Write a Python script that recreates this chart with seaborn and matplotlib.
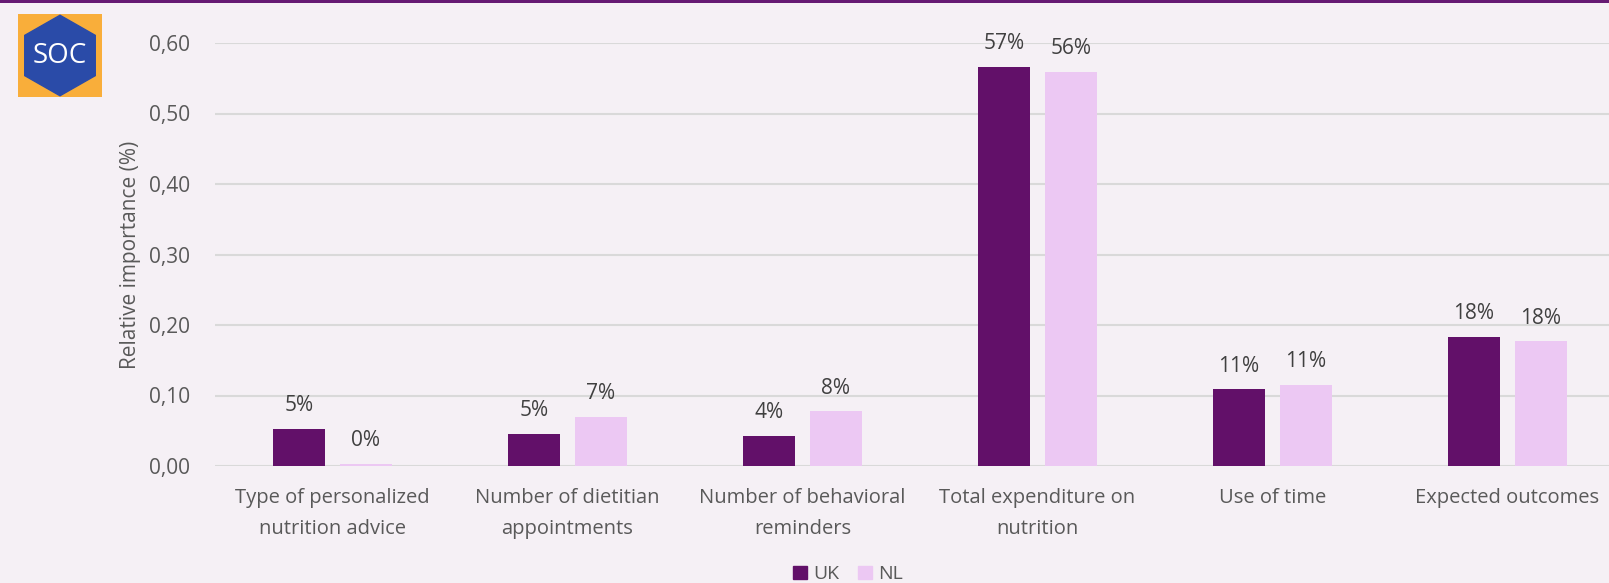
import pandas as pd
import matplotlib.pyplot as plt
import seaborn as sns
from matplotlib.patches import Rectangle, RegularPolygon

categories = ['Type of personalized\nnutrition advice', 'Number of dietitian\nappointments',
              'Number of behavioral\nreminders', 'Total expenditure on\nnutrition',
              'Use of time', 'Expected outcomes']
uk = [0.053, 0.046, 0.043, 0.566, 0.109, 0.183]
nl = [0.003, 0.070, 0.078, 0.559, 0.115, 0.177]
uk_labels = ['5%', '5%', '4%', '57%', '11%', '18%']
nl_labels = ['0%', '7%', '8%', '56%', '11%', '18%']
yticks = [0.0, 0.1, 0.2, 0.3, 0.4, 0.5, 0.6]

df = pd.DataFrame({'cat': categories * 2, 'val': uk + nl,
                   'country': ['UK'] * 6 + ['NL'] * 6})

bg = '#F5F0F5'
sns.set_style('white')
plt.rcParams['font.family'] = ['Open Sans', 'DejaVu Sans']

fig = plt.figure(figsize=(16.09, 5.83), dpi=100, facecolor=bg)
ax = fig.add_axes([215 / 1609, 1 - 466 / 583, 1410 / 1609, (466 - 43) / 583], facecolor=bg)

sns.barplot(data=df, x='cat', y='val', hue='country', palette=['#621069', '#ECC8F3'],
            width=0.57, gap=0.22, ax=ax, legend=False, saturation=1, linewidth=0)

for cont, labs in zip(ax.containers, [uk_labels, nl_labels]):
    ax.bar_label(cont, labels=labs, padding=9, fontsize=15, color='#404040')

ax.set_ylim(0, 0.6)
ax.set_xlim(-0.5, 5.5)
ax.set_yticks(yticks)
ax.set_yticklabels([f'{t:.2f}'.replace('.', ',') for t in yticks], fontsize=15, color='#595959')
ax.set_xticks(range(len(categories)))
ax.set_xticklabels(categories, fontsize=14.5, color='#595959', linespacing=1.75)
ax.tick_params(axis='x', length=0, pad=16)
ax.tick_params(axis='y', length=0, pad=18)
ax.set_xlabel('')
ax.set_ylabel('Relative importance (%)', fontsize=15, color='#595959', labelpad=6)
ax.yaxis.grid(True, color='#D9D9D9', lw=1.5)
ax.set_axisbelow(True)
for s in ax.spines.values():
    s.set_visible(False)

# legend at the bottom
handles = [Rectangle((0, 0), 1, 1, color='#621069'), Rectangle((0, 0), 1, 1, color='#ECC8F3')]
fig.legend(handles, ['UK', 'NL'], loc='center', bbox_to_anchor=(0.527, 0.015), ncol=2,
           frameon=False, fontsize=14, handlelength=0.7, handleheight=0.7,
           handletextpad=0.3, columnspacing=1.0, labelcolor='#595959')

# top purple band
fig.add_artist(Rectangle((0, 1 - 3 / 583), 1, 3 / 583, transform=fig.transFigure,
                         color='#661A73', lw=0))

# SOC logo
lax = fig.add_axes([18 / 1609, 1 - 97 / 583, 84 / 1609, 83 / 583])
lax.set_xlim(-1, 1)
lax.set_ylim(-1, 1)
lax.axis('off')
lax.add_patch(Rectangle((-1, -1), 2, 2, color='#F9AE3A', lw=0))
lax.add_patch(RegularPolygon((0, 0), 6, radius=0.97, orientation=0, color='#2A4BA8'))
lax.text(0, -0.02, 'SOC', ha='center', va='center', color='white', fontsize=20)

fig.savefig('out.png', dpi=100, facecolor=bg)
